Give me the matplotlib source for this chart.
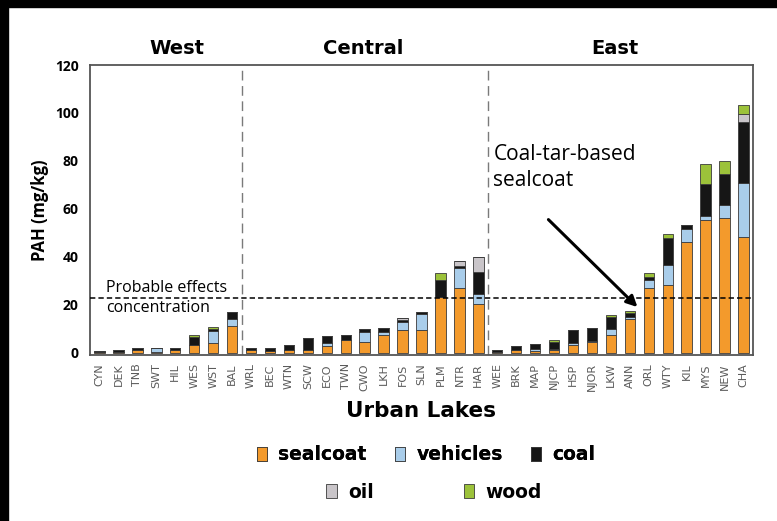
import matplotlib
matplotlib.use("Agg")
import matplotlib.pyplot as plt
from matplotlib.patches import Rectangle
import numpy as np

lakes = ["CYN", "DEK", "TNB", "SWT", "HIL", "WES", "WST", "BAL",
         "WRL", "BEC", "WTN", "SCW", "ECO", "TWN", "CWO", "LKH", "FOS", "SLN", "PLM", "NTR", "HAR",
         "WEE", "BRK", "MAP", "NJCP", "HSP", "NJOR", "LKW", "ANN", "ORL", "WTY", "KIL", "MYS", "NEW", "CHA"]
regions = ["West", "Central", "East"]
region_sizes = [8, 13, 14]

sealcoat = [0.2, 0.2, 1.0, 0.3, 1.0, 3.0, 4.2, 11.0,
            1.0, 0.8, 1.0, 1.0, 2.8, 5.1, 4.4, 7.5, 9.5, 9.3, 23.1, 26.8, 20.3,
            0.3, 1.0, 0.6, 1.0, 3.0, 4.4, 7.2, 14.1, 26.8, 28.2, 46.2, 55.2, 56.3, 48.3]
vehicles = [0.0, 0.0, 0.0, 1.5, 0.0, 0.3, 4.8, 3.0,
            0.0, 0.0, 0.0, 0.0, 1.3, 0.0, 4.2, 1.1, 3.2, 6.9, 0.3, 8.5, 4.2,
            0.0, 0.0, 1.0, 0.6, 0.8, 0.4, 2.5, 0.9, 3.5, 8.5, 5.3, 1.6, 5.3, 22.5]
coal = [0.4, 0.8, 1.0, 0.2, 1.0, 3.3, 1.0, 2.9,
        1.0, 1.2, 2.0, 5.0, 2.7, 2.4, 1.4, 1.6, 1.0, 0.7, 6.8, 0.9, 9.0,
        0.7, 1.8, 2.1, 2.7, 5.5, 5.4, 5.1, 1.7, 1.4, 11.1, 1.6, 13.6, 12.9, 25.3]
oil = [0.0, 0.0, 0.0, 0.0, 0.0, 0.0, 0.0, 0.0,
       0.0, 0.0, 0.0, 0.0, 0.0, 0.0, 0.0, 0.0, 0.8, 0.0, 0.0, 2.0, 6.2,
       0.0, 0.0, 0.0, 0.0, 0.0, 0.0, 0.0, 0.0, 0.0, 0.0, 0.0, 0.0, 0.0, 3.3]
wood = [0.0, 0.0, 0.0, 0.0, 0.0, 0.8, 0.7, 0.0,
        0.0, 0.0, 0.0, 0.0, 0.0, 0.0, 0.0, 0.0, 0.0, 0.0, 3.2, 0.0, 0.0,
        0.0, 0.0, 0.0, 0.8, 0.0, 0.0, 1.0, 0.7, 1.5, 1.5, 0.0, 8.3, 5.5, 3.9]
pec = 22.8
yticks = [0, 20, 40, 60, 80, 100, 120]

sources = ["sealcoat", "vehicles", "coal", "oil", "wood"]
series = [sealcoat, vehicles, coal, oil, wood]
colors = ["#F39A2C", "#A9CDEA", "#161616", "#C9C5C9", "#9CC23A"]

FONT = ["Open Sans", "DejaVu Sans"]
BOLDFONT = ["DejaVu Sans"]

W, H = 777, 521
fig = plt.figure(figsize=(W / 100, H / 100), dpi=100)
fig.patch.set_facecolor("white")
ax = fig.add_axes([90 / W, 1 - 355 / H, 663 / W, 290 / H])

x = np.arange(len(lakes))
bottom = np.zeros(len(lakes))
handles = []
for name, vals, c in zip(sources, series, colors):
    v = np.array(vals)
    b = ax.bar(x, v, 0.55, bottom=bottom, color=c, edgecolor="#3a3a3a",
               linewidth=0.6, label=name, zorder=3)
    handles.append(b)
    bottom += v

ax.set_xlim(-0.5, len(lakes) - 0.5)
ax.set_ylim(-1, 120)
ax.set_yticks(yticks)
ax.set_yticklabels([str(t) for t in yticks], fontsize=10, fontweight="bold", family=FONT)
ax.set_xticks(x)
ax.set_xticklabels(lakes, rotation=90, fontsize=8, color="#5a5a5a",
                   family=["Liberation Sans Narrow", "DejaVu Sans"])
ax.tick_params(axis="both", length=0, pad=6)
ax.tick_params(axis="y", pad=8)
for s in ax.spines.values():
    s.set_color("#555555")
    s.set_linewidth(1.3)

ax.set_ylabel("PAH (mg/kg)", fontsize=12, fontweight="bold", family=FONT, labelpad=4)
ax.set_xlabel("Urban Lakes", fontsize=15.5, fontweight="bold", family=BOLDFONT, labelpad=7)

# region dividers and titles
edges = np.cumsum(region_sizes)
for e in edges[:-1]:
    ax.axvline(e - 0.5, color="#7a7a7a", linestyle=(0, (7, 4)), linewidth=1.0, zorder=1)
title_pos = [4.1, 13.9, 27.2]
for r, px in zip(regions, title_pos):
    ax.text(px, 1.025, r, transform=ax.get_xaxis_transform(), ha="center", va="bottom",
            fontsize=14, fontweight="bold", family=BOLDFONT)

# PEC line
ax.axhline(pec, color="black", linestyle=(0, (3.5, 2)), linewidth=1.1, zorder=4)
ax.text(0.35, pec + 1.0, "Probable effects", ha="left", va="bottom", fontsize=11.5,
        family=FONT, zorder=5)
ax.text(0.35, pec - 0.8, "concentration", ha="left", va="top", fontsize=11.5,
        family=FONT, zorder=5)

# annotation
ax.text(20.8, 87.0, "Coal-tar-based\nsealcoat", ha="left", va="top", fontsize=15,
        family=FONT, linespacing=1.3)
ax.annotate("", xy=(28.4, 19.0), xytext=(23.7, 55.5),
            arrowprops=dict(arrowstyle="-|>", color="black", lw=2.2, mutation_scale=16,
                            shrinkA=0, shrinkB=0))

# legend, two rows
leg_kw = dict(frameon=False, handlelength=0.55, handleheight=0.85, handletextpad=0.6,
              prop={"family": BOLDFONT, "weight": "bold", "size": 13.5}, loc="center")
leg1 = fig.legend(handles=handles[:3], labels=sources[:3], ncol=3, columnspacing=1.5,
                  bbox_to_anchor=(426 / W, 1 - 455 / H), **leg_kw)
fig.add_artist(leg1)
leg2 = fig.legend(handles=handles[3:], labels=sources[3:], ncol=2, columnspacing=4.8,
                  bbox_to_anchor=(434 / W, 1 - 492 / H), **leg_kw)

# black frame strips of the screenshot
fig.add_artist(Rectangle((0, 0), 8 / W, 1, transform=fig.transFigure, color="black", zorder=10))
fig.add_artist(Rectangle((0, 1 - 7 / H), 1, 7 / H, transform=fig.transFigure, color="black", zorder=10))

fig.savefig("out.png", dpi=100, facecolor="white")
